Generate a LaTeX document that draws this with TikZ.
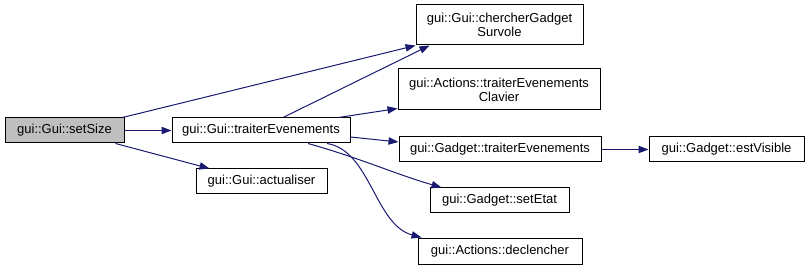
\documentclass[tikz,border=0pt]{standalone}
\usepackage{fontspec}
\setmainfont{Liberation Sans}
\usetikzlibrary{arrows.meta,calc}
\definecolor{edgeblue}{HTML}{191970}
\definecolor{rootgray}{HTML}{BFBFBF}
\begin{document}
\begin{tikzpicture}[x=0.75pt,y=-0.75pt,
  fn/.style={draw=black,line width=0.75pt,fill=white,inner sep=0pt,
    align=center,font=\fontsize{9.75pt}{10.5pt}\selectfont},
  call/.style={draw=edgeblue,line width=0.75pt,
    -{Triangle[length=7.5pt,width=5.5pt]}}]
\useasboundingbox (0,0) rectangle (809,270);

% functions
\node[fn,fill=rootgray,minimum width=89.25pt,minimum height=18.75pt] (setSize) at (64.5,130.5) {gui::Gui::setSize};
\node[fn,minimum width=133.5pt,minimum height=18.75pt] (tr) at (261,130.5) {gui::Gui::traiterEvenements};
\node[fn,minimum width=98.25pt,minimum height=18.75pt] (act) at (261.5,181.5) {gui::Gui::actualiser};
\node[fn,minimum width=125.25pt,minimum height=30pt] (cherch) at (499.5,25) {gui::Gui::chercherGadget\\Survole};
\node[fn,minimum width=151.5pt,minimum height=30.75pt] (clav) at (499,89.5) {gui::Actions::traiterEvenements\\Clavier};
\node[fn,minimum width=151.5pt,minimum height=18.75pt] (gad) at (500,149.5) {gui::Gadget::traiterEvenements};
\node[fn,minimum width=116.25pt,minimum height=18.75pt] (vis) at (726.5,149.5) {gui::Gadget::estVisible};
\node[fn,minimum width=104.25pt,minimum height=18.75pt] (etat) at (499.5,200.5) {gui::Gadget::setEtat};
\node[fn,minimum width=123pt,minimum height=19.5pt] (decl) at (500,251) {gui::Actions::declencher};

% calls
\draw[call] ($(setSize.north east)+(-2,0)$) -- (cherch.south west);
\draw[call] (setSize.east) -- (tr.west);
\draw[call] ($(setSize.south east)+(-9,0)$) -- ($(act.north west)+(14,0)$);
\draw[call] ($(tr.north)+(22,0)$) -- ($(cherch.south west)+(14,0)$);
\draw[call] ($(tr.north east)+(-12,0)$) -- ($(clav.south west)+(0,-2)$);
\draw[call] ($(tr.east)+(0,6.5)$) -- ($(gad.west)+(0,-7.5)$);
\draw[call] ($(tr.south)+(47,0)$) .. controls (360,158) and (395,174) .. ($(etat.north west)+(12,0)$);
\draw[call] ($(tr.south)+(66,0)$) .. controls (370,150) and (375,225) .. ($(decl.north west)+(4,0)$);
\draw[call] (gad.east) -- (vis.west);
\end{tikzpicture}
\end{document}
